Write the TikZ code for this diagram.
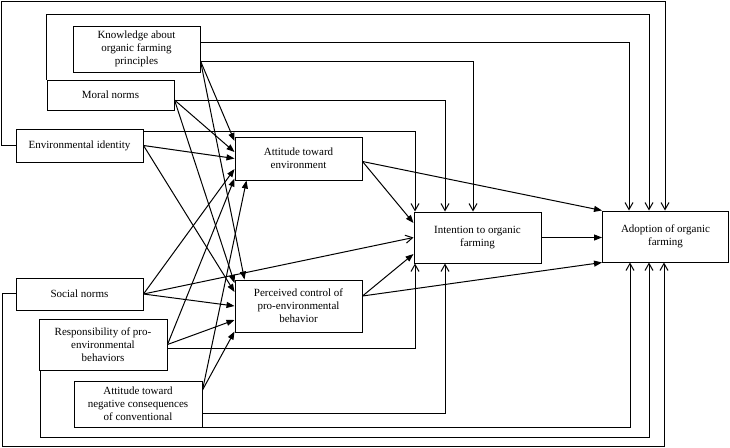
\documentclass[tikz,border=0pt]{standalone}
\usepackage{fontspec}
\setmainfont{Liberation Serif}
\usetikzlibrary{arrows.meta}
\tikzset{
  box/.style={draw, line width=1pt, rectangle, align=center, inner sep=1pt,
    minimum width=127pt, font=\fontsize{11}{13}\selectfont},
  fa/.style={line width=1pt, -{Triangle[length=8pt,width=6pt]}},
  oa/.style={line width=1pt, -{Straight Barb[length=7pt,width=8pt]}},
}
\begin{document}
\begin{tikzpicture}[x=1pt,y=-1pt]
\useasboundingbox (0,0) rectangle (730,447);
% boxes
\node[box, minimum height=46pt] (Know) at (136.5,49) {Knowledge about\\organic farming\\principles};
\node[box, minimum height=30pt] (Mor) at (110.5,95) {Moral norms};
\node[box, minimum height=33pt] (Env) at (79.5,145.5) {Environmental identity};
\node[box, minimum height=32pt] (Soc) at (79.5,294) {Social norms};
\node[box, minimum height=51pt, minimum width=128pt] (Res) at (103,344.5) {Responsibility of pro-\\environmental\\behaviors};
\node[box, minimum height=46pt, minimum width=128pt] (AN) at (138,404) {Attitude toward\\negative consequences\\of conventional};
\node[box, minimum height=43pt] (AE) at (298.5,158.5) {Attitude toward\\environment};
\node[box, minimum height=52pt] (PC) at (298.5,306) {Perceived control of\\pro-environmental\\behavior};
\node[box, minimum height=51pt] (Int) at (477.5,237.5) {Intention to organic\\farming};
\node[box, minimum height=51pt, minimum width=126pt] (Ado) at (665.5,236.5) {Adoption of organic\\farming};

% direct arrows into Attitude toward environment
\draw[fa] ([yshift=-12pt]Know.east) -- ([yshift=17.5pt]AE.west);
\draw[fa] ([yshift=-5pt]Mor.east) -- ([yshift=6.5pt]AE.west);
\draw[fa] (Env.east) -- ([yshift=0pt]AE.west);
\draw[fa] (Soc.east) -- ([yshift=-10.5pt]AE.west);
\draw[fa] (Res.east) -- ([yshift=-20pt]AE.west);
\draw[fa] ([yshift=14pt]AN.east) -- ([xshift=12pt]AE.south west);
% direct arrows into Perceived control
\draw[fa] ([yshift=-12pt]Know.east) -- ([xshift=10pt]PC.north west);
\draw[fa] ([yshift=-5pt]Mor.east) -- ([yshift=23pt]PC.west);
\draw[fa] (Env.east) -- ([yshift=14pt]PC.west);
\draw[fa] (Soc.east) -- (PC.west);
\draw[fa] (Res.east) -- ([yshift=-14pt]PC.west);
\draw[fa] ([yshift=14pt]AN.east) -- ([yshift=1pt]PC.south west);
% mediators
\draw[fa] ([yshift=-3pt]AE.east) -- ([yshift=14.5pt]Int.west);
\draw[fa] ([yshift=-3pt]AE.east) -- (Ado.north west);
\draw[oa] (Soc.east) -- (Int.west);
\draw[fa] ([yshift=10pt]PC.east) -- ([yshift=-16.5pt]Int.west);
\draw[fa] ([yshift=10pt]PC.east) -- (Ado.south west);
\draw[fa] (Int.east) -- (Int.east -| Ado.west);

% routed lines above
\draw[oa] (Env.west) -| (1,1) -| (Ado.north -| 665,0);
\draw[oa] (Mor.north west) |- (649,14) -- (Ado.north -| 649,0);
\draw[oa] ([yshift=7pt]Know.east) -| (Ado.north -| 629,0);
\draw[oa] ([yshift=-12pt]Know.east) -| (Int.north -| 473,0);
\draw[oa] ([yshift=-5pt]Mor.east) -| (Int.north -| 445,0);
\draw[oa] ([yshift=14.5pt]Env.east) -| (Int.north -| 415,0);
% routed lines below
\draw[oa] ([yshift=-3.5pt]Res.east) -| (Int.south -| 415,0);
\draw[oa] ([yshift=-9pt]AN.east) -| (Int.south -| 445,0);
\draw[oa] (AN.south east) -| (Ado.south -| 630,0);
\draw[oa] ([xshift=2pt]Res.south west) |- (649,437) -- (Ado.south -| 649,0);
\draw[oa] ([yshift=1pt]Soc.west) -| (2,446) -| (Ado.south -| 664,0);
\end{tikzpicture}
\end{document}
